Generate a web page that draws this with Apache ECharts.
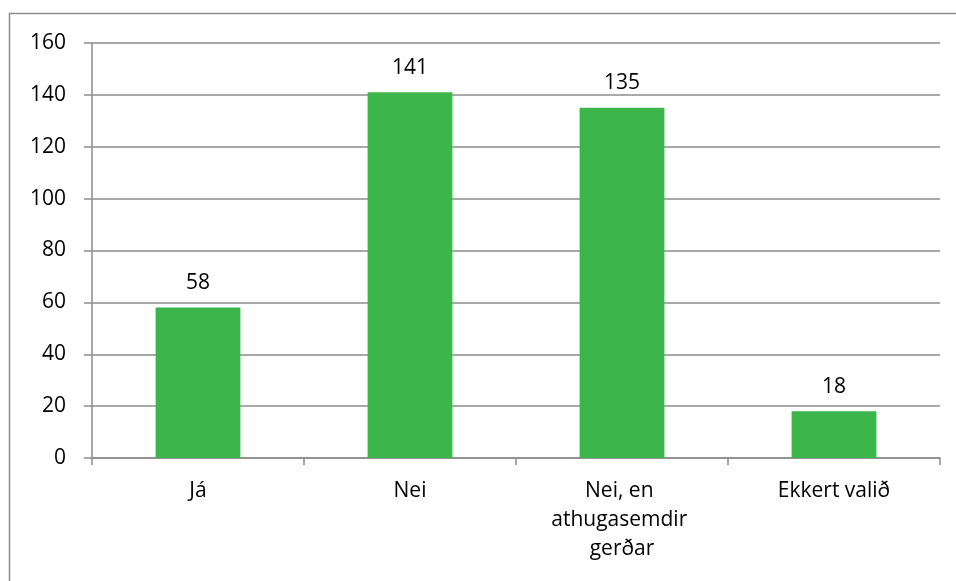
<!DOCTYPE html>
<html>
<head>
<meta charset="utf-8">
<script src="https://cdn.jsdelivr.net/npm/echarts@6/dist/echarts.min.js"></script>
<style>
  html, body { margin: 0; padding: 0; background: #fff; }
  #chart { width: 956px; height: 581px; }
</style>
</head>
<body>
<div id="chart"></div>
<script>
// gögn
var categories = ["Já", "Nei", "Nei, en athugasemdir gerðar", "Ekkert valið"];
var values = [58, 141, 135, 18];
var yMin = 0, yMax = 160, yStep = 20;

var gray = "#8c8c8c";
var font = "'Open Sans', 'Noto Sans', sans-serif";

var chart = echarts.init(document.getElementById("chart"));
chart.setOption({
  animation: false,
  graphic: [{
    type: "rect",
    shape: { x: 9.5, y: 13.5, width: 1000, height: 1000 },
    style: { fill: "none", stroke: gray, lineWidth: 1.5 },
    silent: true
  }],
  grid: { left: 92, right: 16, top: 43, bottom: 123 },
  xAxis: {
    type: "category",
    data: categories,
    axisLine: { lineStyle: { color: gray, width: 1.5 } },
    axisTick: { show: true, length: 7, alignWithLabel: false, lineStyle: { color: gray, width: 1.5 } },
    axisLabel: {
      color: "#000", fontFamily: font, fontSize: 21, margin: 19,
      lineHeight: 29, width: 170, overflow: "break", interval: 0
    }
  },
  yAxis: {
    type: "value",
    min: yMin, max: yMax, interval: yStep,
    axisLine: { show: true, lineStyle: { color: gray, width: 1.5 } },
    axisTick: { show: true, length: 8, lineStyle: { color: gray, width: 1.5 } },
    splitLine: { lineStyle: { color: gray, width: 1.5 } },
    axisLabel: { color: "#000", fontFamily: font, fontSize: 21, margin: 26 }
  },
  series: [{
    type: "bar",
    data: values,
    barWidth: "40%",
    itemStyle: { color: "#3cb54a" },
    label: {
      show: true, position: "top", distance: 14,
      color: "#000", fontFamily: font, fontSize: 21
    }
  }]
});
</script>
</body>
</html>
